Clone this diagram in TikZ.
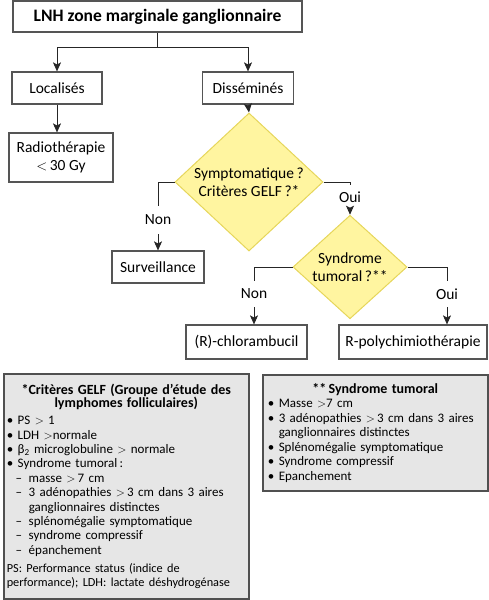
\documentclass[tikz,border=0pt]{standalone}
\usepackage{fontspec}
\setmainfont{Carlito}
\usetikzlibrary{shapes.geometric,arrows.meta}
\definecolor{boxline}{HTML}{555555}
\definecolor{dfill}{HTML}{FFF5A0}
\definecolor{dline}{HTML}{E6D65A}
\definecolor{notefill}{HTML}{E6E6E6}
\definecolor{noteline}{HTML}{505050}
\newcommand\bitem[1]{\par\noindent\hangindent=11pt\hangafter=1\makebox[11pt][l]{•}#1}
\newcommand\ditem[1]{\par\noindent\hangindent=22pt\hangafter=1\hspace*{9pt}\makebox[13pt][l]{–}#1}
\newcommand\brk{\hfill\break}
\begin{document}
\begin{tikzpicture}[x=1pt,y=-1pt,font=\fontsize{15.5}{17.5}\selectfont,
  box/.style={draw=boxline,line width=1.2pt,fill=white,inner sep=0pt,align=center},
  dec/.style={shape=diamond,draw=dline,fill=dfill,line width=1pt,inner sep=0pt,align=center},
  lbl/.style={inner sep=0pt,minimum width=30pt},
  conn/.style={draw=black!85,line width=0.9pt},
  arr/.style={conn,-{Stealth[length=9pt,width=8pt,inset=2pt]}},
  note/.style={draw=noteline,fill=notefill,line width=1.5pt,anchor=north west,inner sep=5pt,align=left}]
\useasboundingbox (0,0) rectangle (488,600);
% nodes
\node[box,minimum width=289pt,minimum height=31pt,font=\fontsize{17.5}{19}\selectfont] (title) at (157.5,16.5) {\textbf{LNH zone marginale ganglionnaire}};
\node[box,minimum width=90pt,minimum height=32pt] (loc) at (57,88) {Localisés};
\node[box,minimum width=91pt,minimum height=32pt] (diss) at (248,88) {Disséminés};
\node[box,minimum width=104pt,minimum height=49pt] (radio) at (61,157.5) {Radiothérapie\\$<$\,30 Gy};
\node[dec,minimum width=148pt,minimum height=99pt] (d1) at (249,182) {Symptomatique\,?\\Critères GELF\,?*};
\node[lbl,minimum height=28pt] (non1) at (158,220) {Non};
\node[box,minimum width=92pt,minimum height=32pt] (surv) at (158,267) {Surveillance};
\node[lbl,minimum height=24pt] (oui1) at (350,197) {Oui};
\node[dec,minimum width=114pt,minimum height=76pt] (d2) at (350,267) {Syndrome\\tumoral\,?**};
\node[lbl,minimum height=26pt] (non2) at (254,294) {Non};
\node[lbl,minimum height=26pt] (oui2) at (447,294) {Oui};
\node[box,minimum width=121pt,minimum height=34pt] (chl) at (246.5,342) {(R)-chlorambucil};
\node[box,minimum width=148pt,minimum height=34pt] (poly) at (413,342) {R-polychimiothérapie};
% connectors
\coordinate (split) at (157.5,47);
\draw[conn] (title.south) -- (split);
\draw[arr] (split) -| (loc.north);
\draw[arr] (split) -| (diss.north);
\draw[arr] (loc.south) -- (loc.south |- radio.north);
\draw[arr] (diss.south) -- (d1.north);
\draw[conn] (d1.west) -| (non1.north);
\draw[arr] (non1.south) -- (surv.north);
\draw[conn] (d1.east) -| (oui1.north);
\draw[arr] (oui1.south) -- (d2.north);
\draw[conn] (d2.west) -| (non2.north);
\draw[arr] (non2.south) -- (non2.south |- chl.north);
\draw[conn] (d2.east) -| (oui2.north);
\draw[arr] (oui2.south) -- (oui2.south |- poly.north);
% notes
\node[note,inner xsep=3pt,text width=239pt,minimum height=225pt,font=\fontsize{13}{14.4}\selectfont] (gelf) at (3,373) {%
{\centering\fontsize{14}{13.2}\selectfont\textbf{*Critères GELF (Groupe d'étude des\\lymphomes folliculaires)}\par}
\vspace{2.5pt}
\bitem{PS $>$ 1}
\bitem{LDH $>$normale}
\bitem{β\textsubscript{2} microglobuline $>$ normale}
\bitem{Syndrome tumoral\,:}
\ditem{masse $>$\,7 cm}
\ditem{3 adénopathies $>$\,3 cm dans 3 aires\brk ganglionnaires distinctes}
\ditem{splénomégalie symptomatique}
\ditem{syndrome compressif}
\ditem{épanchement}
\par\vspace{5pt}{\fontsize{12.3}{13.4}\selectfont\noindent PS: Performance status (indice de\brk performance); LDH: lactate déshydrogénase\par}};
\node[note,text width=215pt,minimum height=116pt,font=\fontsize{13}{14.5}\selectfont] (synd) at (262,374) {%
{\centering\fontsize{14}{14.5}\selectfont\textbf{**\,Syndrome tumoral}\par}
\bitem{Masse $>$7 cm}
\bitem{3 adénopathies $>$\,3 cm dans 3 aires\brk ganglionnaires distinctes}
\bitem{Splénomégalie symptomatique}
\bitem{Syndrome compressif}
\bitem{Epanchement}};
\end{tikzpicture}
\end{document}
